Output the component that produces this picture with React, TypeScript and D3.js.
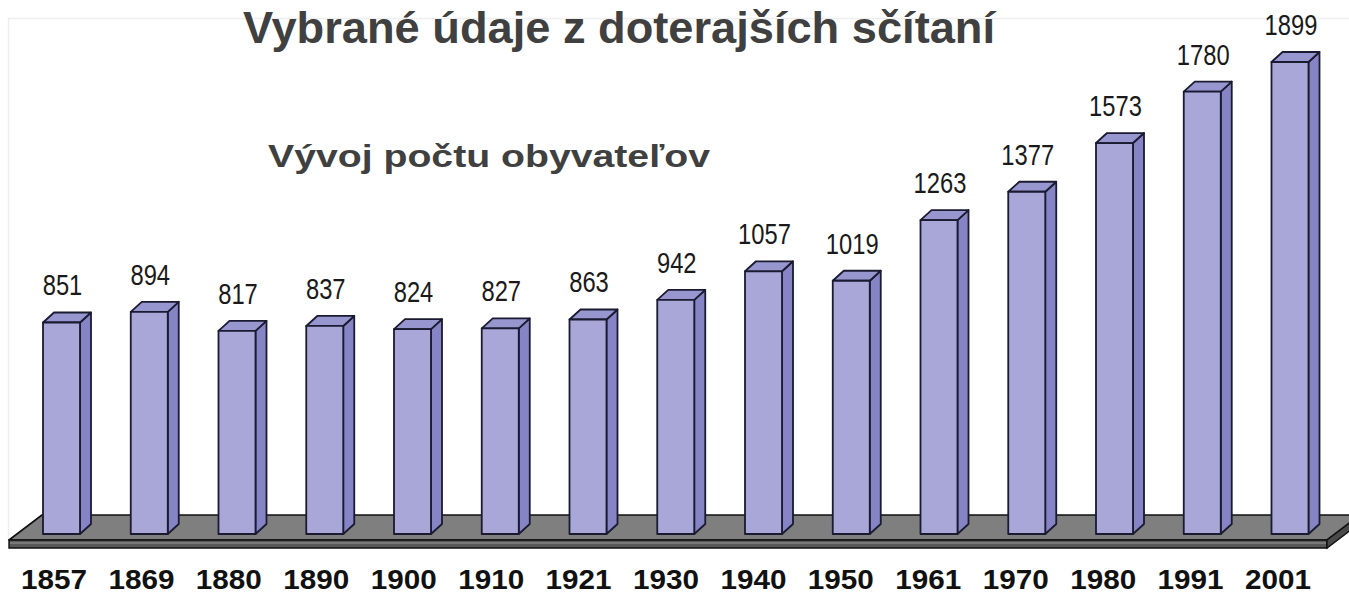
import React from 'react';
import * as d3 from 'd3';

const years = ['1857', '1869', '1880', '1890', '1900', '1910', '1921', '1930', '1940', '1950', '1961', '1970', '1980', '1991', '2001'];
const population = [851, 894, 817, 837, 824, 827, 863, 942, 1057, 1019, 1263, 1377, 1573, 1780, 1899];

const title = 'Vybrané údaje z doterajších sčítaní';
const subtitle = 'Vývoj počtu obyvateľov';

const W = 1349;
const H = 594;

const App = () => {
  // front-face centres of the bars
  const x = d3.scalePoint<string>().domain(years).range([61.5, 1290]);
  const xYear = d3.scalePoint<string>().domain(years).range([54, 1278]);
  const y = d3.scaleLinear().domain([0, 1899]).range([534, 62]);

  const barW = 37;
  const dx = 11;
  const dy = -10;
  const base = y(0);

  // floor slab
  const floorBackY = 515;
  const floorFrontY = 540;
  const slab = 8;
  const floorTop = [[42, floorBackY], [1360, floorBackY], [1327, floorFrontY], [9, floorFrontY]];
  const floorFront = [[9, floorFrontY], [1327, floorFrontY], [1327, floorFrontY + slab], [9, floorFrontY + slab]];
  const floorSide = [[1327, floorFrontY], [1360, floorBackY], [1360, floorBackY + slab], [1327, floorFrontY + slab]];
  const pts = (p: number[][]) => p.map(d => d.join(',')).join(' ');

  const font = '"Liberation Sans", Arial, sans-serif';

  return (
    <svg width={W} height={H} style={{ position: 'absolute', left: 0, top: 0, background: '#fff' }}>
      {/* faint chart wall */}
      <path d={`M8.5,${floorFrontY} V18.5 H${W}`} fill="none" stroke="#eeeeee" strokeWidth={1.5} />

      <polygon points={pts(floorTop)} fill="#7f7f7f" stroke="#111" strokeWidth={1.6} strokeLinejoin="round" />
      <polygon points={pts(floorFront)} fill="#585858" stroke="#111" strokeWidth={1.4} />
      <polygon points={pts(floorSide)} fill="#4a4a4a" stroke="#111" strokeWidth={1.4} />
      <line x1={10} x2={1326} y1={floorFrontY + 3} y2={floorFrontY + 3} stroke="#9a9a9a" strokeWidth={1} />

      {years.map((yr, i) => {
        const v = population[i];
        const cx = x(yr)!;
        const x0 = cx - barW / 2;
        const x1 = cx + barW / 2;
        const top = y(v);
        const front = [[x0, top], [x1, top], [x1, base], [x0, base]];
        const side = [[x1, top], [x1 + dx, top + dy], [x1 + dx, base + dy], [x1, base]];
        const lid = [[x0, top], [x0 + dx, top + dy], [x1 + dx, top + dy], [x1, top]];
        return (
          <g key={yr}>
            <polygon points={pts(side)} fill="#8684c4" stroke="#1a1a30" strokeWidth={1.8} strokeLinejoin="round" />
            <polygon points={pts(lid)} fill="#9896cf" stroke="#1a1a30" strokeWidth={1.8} strokeLinejoin="round" />
            <polygon points={pts(front)} fill="#a9a7d8" stroke="#1a1a30" strokeWidth={1.8} strokeLinejoin="round" />
            <text
              x={cx + 1}
              y={top - 27}
              textAnchor="middle"
              fontFamily={font}
              fontSize={29}
              fill="#1a1a1a"
              textLength={13.2 * String(v).length}
              lengthAdjust="spacingAndGlyphs"
            >
              {v}
            </text>
            <text
              x={xYear(yr)}
              y={589}
              textAnchor="middle"
              fontFamily={font}
              fontWeight="bold"
              fontSize={28}
              fill="#111"
              textLength={66}
              lengthAdjust="spacingAndGlyphs"
            >
              {yr}
            </text>
          </g>
        );
      })}

      <text x={243} y={43} fontFamily={font} fontWeight="bold" fontSize={44} fill="#404040" textLength={752} lengthAdjust="spacingAndGlyphs">
        {title}
      </text>
      <text x={268} y={167} fontFamily={font} fontWeight="bold" fontSize={32} fill="#404040" textLength={442} lengthAdjust="spacingAndGlyphs">
        {subtitle}
      </text>
    </svg>
  );
};

export default App;
